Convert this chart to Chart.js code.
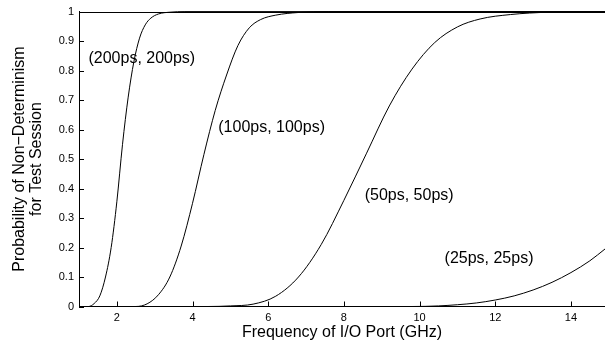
<!DOCTYPE html>
<html>
<head>
<meta charset="utf-8">
<script src="https://cdn.jsdelivr.net/npm/chart.js@4"></script>
<style>
  html, body { margin: 0; padding: 0; background: #fff; overflow: hidden; }
  #wrap { width: 605px; height: 345px; }
</style>
</head>
<body>
<div id="wrap"><canvas id="probChart" width="605" height="345"></canvas></div>
<script>
// values
const freq200 = [1, 1.25, 1.4, 1.55, 1.7, 1.85, 2.0, 2.15, 2.3, 2.45, 2.6, 2.75, 2.9, 3.1, 3.4, 3.8, 14.9];
const prob200 = [0, 0, 0.01, 0.036, 0.1, 0.2, 0.355, 0.55, 0.71, 0.83, 0.91, 0.955, 0.978, 0.992, 0.998, 1, 1];

const freq100 = [1, 2.5, 2.8, 3.1, 3.4, 3.7, 4.0, 4.3, 4.6, 4.9, 5.2, 5.5, 5.8, 6.2, 6.8, 7.6, 14.9];
const prob100 = [0, 0, 0.009, 0.04, 0.1, 0.205, 0.35, 0.515, 0.665, 0.785, 0.885, 0.945, 0.973, 0.988, 0.997, 1, 1];

const freq50 = [1, 4.4, 5.0, 5.6, 6.2, 6.8, 7.4, 8.0, 8.6, 9.2, 9.8, 10.4, 11.0, 11.6, 12.4, 13.4, 14.4, 14.9];
const prob50 = [0, 0, 0.002, 0.008, 0.035, 0.1, 0.21, 0.36, 0.52, 0.68, 0.805, 0.895, 0.948, 0.975, 0.99, 0.998, 1, 1];

const freq25 = [1, 9.8, 10.5, 11.0, 11.5, 12.0, 12.5, 13.0, 13.5, 14.0, 14.5, 14.9];
const prob25 = [0, 0, 0.002, 0.006, 0.012, 0.022, 0.036, 0.056, 0.082, 0.115, 0.155, 0.195];

const seriesNames = ['(200ps, 200ps)', '(100ps, 100ps)', '(50ps, 50ps)', '(25ps, 25ps)'];
const xTicks = [2, 4, 6, 8, 10, 12, 14];
const yTicks = [0, 0.1, 0.2, 0.3, 0.4, 0.5, 0.6, 0.7, 0.8, 0.9, 1];

const FONT = "'Liberation Sans', Arial, Helvetica, sans-serif";

// where each curve's label sits (data coordinates, left edge / middle)
const labelSpots = [
  { x: 1.25, y: 0.84 },
  { x: 4.68, y: 0.605 },
  { x: 8.55, y: 0.375 },
  { x: 10.66, y: 0.162 },
];

function toPoints(xs, ys) {
  return xs.map((x, i) => ({ x: x, y: ys[i] }));
}

// inward tick marks, top frame line and curve labels
const matlabLook = {
  id: 'matlabLook',
  afterDatasetsDraw(chart) {
    const { ctx, chartArea } = chart;
    const xs = chart.scales.x;
    const ys = chart.scales.y;
    ctx.save();
    ctx.strokeStyle = '#000';
    ctx.lineWidth = 1;
    ctx.beginPath();
    xTicks.forEach(v => {
      const px = Math.round(xs.getPixelForValue(v)) + 0.5;
      ctx.moveTo(px, chartArea.bottom);
      ctx.lineTo(px, chartArea.bottom - 5);
    });
    yTicks.forEach(v => {
      const py = Math.round(ys.getPixelForValue(v)) + 0.5;
      ctx.moveTo(chartArea.left, py);
      ctx.lineTo(chartArea.left + 5, py);
    });
    const top = Math.round(chartArea.top) + 0.5;
    ctx.moveTo(chartArea.left, top);
    ctx.lineTo(chartArea.right, top);
    ctx.stroke();

    ctx.fillStyle = '#000';
    ctx.font = '16px ' + FONT;
    ctx.textAlign = 'left';
    ctx.textBaseline = 'middle';
    seriesNames.forEach((name, i) => {
      const spot = labelSpots[i];
      ctx.fillText(name, xs.getPixelForValue(spot.x), ys.getPixelForValue(spot.y));
    });
    ctx.restore();
  }
};

const freqs = [freq200, freq100, freq50, freq25];
const probs = [prob200, prob100, prob50, prob25];

const ctx = document.getElementById('probChart').getContext('2d');
new Chart(ctx, {
  type: 'line',
  data: {
    datasets: seriesNames.map((name, i) => ({
      label: name,
      data: toPoints(freqs[i], probs[i]),
      borderColor: '#000',
      borderWidth: 1,
      pointRadius: 0,
      fill: false,
      cubicInterpolationMode: 'monotone',
      clip: 2,
    })),
  },
  options: {
    responsive: false,
    animation: false,
    layout: { padding: { top: 9, right: 0, bottom: 0, left: 0 } },
    plugins: {
      legend: { display: false },
      tooltip: { enabled: false },
    },
    scales: {
      x: {
        type: 'linear',
        min: 1,
        max: 14.9,
        afterBuildTicks: s => { s.ticks = xTicks.map(v => ({ value: v })); },
        afterFit: s => { s.height = 38.5; },
        grid: { display: false, drawTicks: false },
        border: { display: true, color: '#000', width: 1 },
        ticks: {
          color: '#000',
          padding: 5,
          maxRotation: 0,
          font: { family: FONT, size: 11 },
        },
        title: {
          display: true,
          text: 'Frequency of I/O Port (GHz)',
          color: '#000',
          padding: { top: 0, bottom: 4 },
          font: { family: FONT, size: 16, lineHeight: 1.1 },
        },
      },
      y: {
        type: 'linear',
        min: 0,
        max: 1,
        afterBuildTicks: s => { s.ticks = yTicks.map(v => ({ value: v })); },
        afterFit: s => { s.width = 79; },
        grid: { display: false, drawTicks: false },
        border: { display: true, color: '#000', width: 1 },
        ticks: {
          color: '#000',
          padding: 5,
          callback: v => String(v),
          font: { family: FONT, size: 11 },
        },
        title: {
          display: true,
          text: ['Probability of Non\u2212Determinism', 'for Test Session'],
          color: '#000',
          padding: { top: 11, bottom: 0 },
          font: { family: FONT, size: 16, lineHeight: 1.05 },
        },
      },
    },
  },
  plugins: [matlabLook],
});
</script>
</body>
</html>
